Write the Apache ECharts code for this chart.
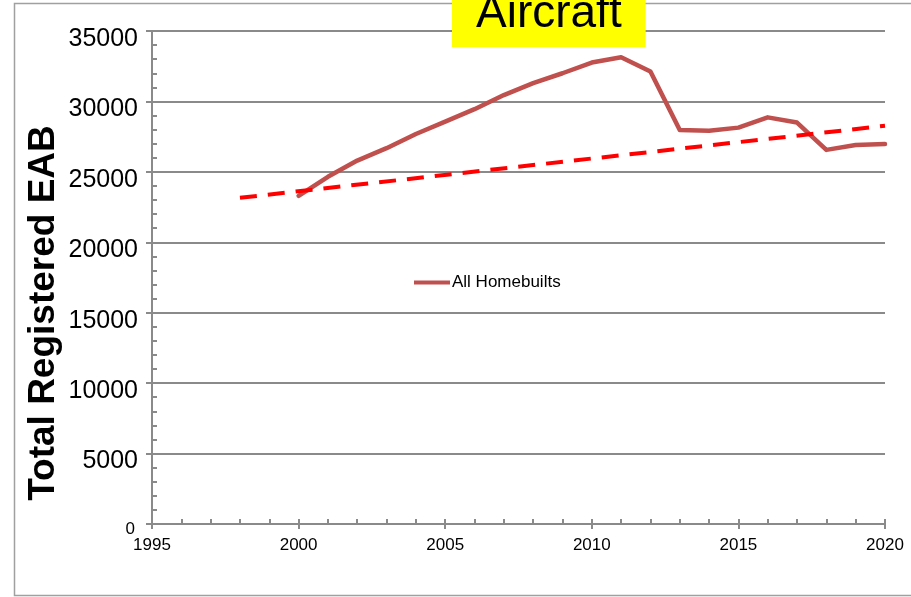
<!DOCTYPE html>
<html>
<head>
<meta charset="utf-8">
<script src="https://cdn.jsdelivr.net/npm/echarts@6/dist/echarts.min.js"></script>
<style>
  html, body { margin: 0; padding: 0; background: #fff; }
  #chart { width: 911px; height: 597px; }
</style>
</head>
<body>
<div id="chart"></div>
<script>
// Registered experimental amateur-built aircraft, yearly totals
const years = [2000, 2001, 2002, 2003, 2004, 2005, 2006, 2007, 2008, 2009, 2010,
               2011, 2012, 2013, 2014, 2015, 2016, 2017, 2018, 2019, 2020];
const homebuilts = [23300, 24650, 25800, 26680, 27690, 28570, 29450, 30450, 31300, 32000, 32760,
                    33140, 32120, 27970, 27920, 28140, 28870, 28500, 26560, 26910, 26980];

// Linear trend endpoints
const trendYears = [1998, 2020];
const trendValues = [23160, 28270];

// Axis ticks
const xTicks = { min: 1995, max: 2020, step: 5 };
const yTicks = { min: 0, max: 35000, step: 5000 };

const font = 'Arial, "Liberation Sans", Helvetica, sans-serif';
const axisGray = '#8a8a8a';

const chart = echarts.init(document.getElementById('chart'), null, { renderer: 'canvas' });

chart.setOption({
  animation: false,
  backgroundColor: '#ffffff',
  textStyle: { fontFamily: font },
  graphic: [
    {
      type: 'rect',
      z: 0,
      shape: { x: 14.5, y: 3.5, width: 1000, height: 592 },
      style: { fill: 'none', stroke: '#a0a0a0', lineWidth: 1.5 }
    },
    {
      type: 'text',
      z: 5,
      x: 44,
      y: 313,
      rotation: Math.PI / 2,
      style: {
        text: 'Total Registered EAB',
        font: 'bold 37px ' + font,
        fill: '#000',
        align: 'center',
        verticalAlign: 'middle'
      }
    }
  ],
  title: {
    text: 'Aircraft',
    left: 452,
    top: -14,
    z: 10,
    backgroundColor: '#ffff00',
    padding: [5, 24, 10, 24],
    textStyle: {
      fontFamily: font,
      fontSize: 46,
      fontWeight: 'normal',
      lineHeight: 46,
      color: '#000'
    }
  },
  legend: {
    data: ['All Homebuilts'],
    left: 414,
    top: 274,
    padding: 0,
    itemWidth: 36,
    itemHeight: 4,
    itemGap: 2,
    icon: 'rect',
    textStyle: { fontFamily: font, fontSize: 17, color: '#000', padding: [0, 0, 0, -3] }
  },
  grid: { left: 152, right: 26, top: 31, bottom: 73, containLabel: false },
  xAxis: [
    {
      type: 'value',
      position: 'bottom',
      min: xTicks.min,
      max: xTicks.max,
      interval: xTicks.step,
      axisLine: { show: true, lineStyle: { color: axisGray, width: 2 } },
      axisTick: { show: true, inside: true, length: 5, lineStyle: { color: axisGray, width: 2 } },
      minorTick: { show: true, splitNumber: 5, length: 5, lineStyle: { color: axisGray, width: 2 } },
      splitLine: { show: false },
      axisLabel: {
        margin: 13, fontSize: 17, color: '#000', fontFamily: font,
        formatter: (v) => String(v)
      }
    },
    {
      type: 'value',
      position: 'bottom',
      offset: 0,
      min: xTicks.min,
      max: xTicks.max,
      interval: xTicks.step,
      axisLine: { show: false },
      axisTick: { show: true, inside: false, length: 5, lineStyle: { color: axisGray, width: 2 } },
      splitLine: { show: false },
      axisLabel: { show: false }
    }
  ],
  yAxis: [
    {
      type: 'value',
      position: 'left',
      min: yTicks.min,
      max: yTicks.max,
      interval: yTicks.step,
      axisLine: { show: true, lineStyle: { color: axisGray, width: 2 } },
      axisTick: { show: true, inside: true, length: 5, lineStyle: { color: axisGray, width: 2 } },
      minorTick: { show: true, splitNumber: 5, length: 5, lineStyle: { color: axisGray, width: 2 } },
      splitLine: { show: true, lineStyle: { color: axisGray, width: 2 } },
      axisLabel: {
        margin: 14, fontSize: 25, color: '#000', fontFamily: font,
        formatter: (v) => (v === 0 ? '{zero|0}' : String(v)),
        padding: [16, 0, 0, 0],
        rich: {
          zero: { fontSize: 17, fontFamily: font, color: '#000', padding: [0, 3, 6, 0] }
        }
      }
    },
    {
      type: 'value',
      position: 'left',
      offset: 0,
      min: yTicks.min,
      max: yTicks.max,
      interval: yTicks.step,
      axisLine: { show: false },
      axisTick: { show: true, inside: false, length: 6, lineStyle: { color: axisGray, width: 2 } },
      splitLine: { show: false },
      axisLabel: { show: false }
    }
  ],
  series: [
    {
      name: 'All Homebuilts',
      type: 'line',
      xAxisIndex: 0,
      yAxisIndex: 0,
      data: years.map((y, i) => [y, homebuilts[i]]),
      showSymbol: false,
      symbol: 'none',
      lineStyle: { color: '#c0504d', width: 4.5, cap: 'round', join: 'round' },
      itemStyle: { color: '#c0504d' },
      z: 3
    },
    {
      name: 'Trend',
      type: 'line',
      xAxisIndex: 0,
      yAxisIndex: 0,
      data: trendYears.map((y, i) => [y, trendValues[i]]),
      showSymbol: false,
      symbol: 'none',
      lineStyle: { color: '#ff0000', width: 4, type: [17, 11] },
      itemStyle: { color: '#ff0000' },
      z: 4
    }
  ]
});
</script>
</body>
</html>
